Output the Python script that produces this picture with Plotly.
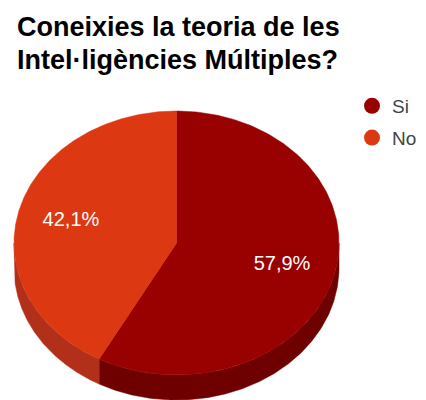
import numpy as np
import plotly.graph_objects as go

# ---- data ----
categories = ["Si", "No"]
values = [57.9, 42.1]
top_colors = ["#990000", "#dc3912"]
side_colors = ["#6e0000", "#b2301a"]
title_lines = ["Coneixies la teoria de les", "Intel·ligències Múltiples?"]

# ---- layout geometry (in screen pixels; page has an 8px body offset) ----
W, H = 426, 400
OFF = 8
cx, cy = 176.5, 243.0
rx, ry = 162.5, 132.0
depth = 25.0
label_r = 0.67

def px(x):
    return (x - OFF) / W

def py(y):
    return 1 - (y - OFF) / H

def pt(theta_deg, r=1.0, dz=0.0):
    t = np.radians(theta_deg)
    return cx + rx * r * np.sin(t), cy - ry * r * np.cos(t) + dz

total = float(sum(values))
fig = go.Figure()

starts, ends = [], []
acc = 0.0
for v in values:
    starts.append(acc / total * 360.0)
    acc += v
    ends.append(acc / total * 360.0)

# side walls (front half: 90..270 degrees)
for i, cat in enumerate(categories):
    a = max(starts[i], 90.0)
    b = min(ends[i], 270.0)
    if b <= a:
        continue
    th = np.linspace(a, b, 200)
    x1, y1 = pt(th)
    x2, y2 = pt(th[::-1], dz=depth)
    xs = np.concatenate([x1, x2, x1[:1]])
    ys = np.concatenate([y1, y2, y1[:1]])
    fig.add_trace(go.Scatter(x=xs, y=ys, fill="toself", fillcolor=side_colors[i],
                             line=dict(width=0.5, color=side_colors[i]), mode="lines",
                             hoverinfo="skip", showlegend=False))

# top surfaces
for i, cat in enumerate(categories):
    th = np.linspace(starts[i], ends[i], 300)
    x1, y1 = pt(th)
    xs = np.concatenate([[cx], x1, [cx]])
    ys = np.concatenate([[cy], y1, [cy]])
    fig.add_trace(go.Scatter(x=xs, y=ys, fill="toself", fillcolor=top_colors[i],
                             line=dict(width=0.5, color=top_colors[i]), mode="lines",
                             hoverinfo="skip", showlegend=False))

# percentage labels
lx, ly, lt = [], [], []
for i, v in enumerate(values):
    mid = (starts[i] + ends[i]) / 2.0
    x, y = pt(mid, r=label_r)
    lx.append(x); ly.append(y)
    lt.append(f"{v / total * 100:.1f}%".replace(".", ","))
fig.add_trace(go.Scatter(x=lx, y=ly, text=lt, mode="text", textposition="middle center",
                         textfont=dict(color="white", size=20, family="Liberation Sans, Arial"),
                         hoverinfo="skip", showlegend=False))

# legend entries
for i, cat in enumerate(categories):
    fig.add_trace(go.Scatter(x=[None], y=[None], mode="markers", name=cat, legendgroup=cat,
                             marker=dict(color=top_colors[i], size=17, symbol="circle")))

# title (two lines)
for k, line in enumerate(title_lines):
    fig.add_annotation(
        text="<b>" + line + "</b>",
        xref="paper", yref="paper", x=px(15), y=py(38 + 33 * k), xanchor="left", yanchor="bottom",
        align="left", showarrow=False, yshift=-6,
        font=dict(family="Liberation Sans, Arial", size=27, color="#000000"),
    )

fig.update_layout(
    width=W, height=H,
    margin=dict(l=0, r=0, t=0, b=0),
    paper_bgcolor="white", plot_bgcolor="white",
    xaxis=dict(range=[OFF, W + OFF], visible=False, fixedrange=True),
    yaxis=dict(range=[H + OFF, OFF], visible=False, fixedrange=True),
    legend=dict(x=px(352), xanchor="left", xref="paper", y=py(87), yanchor="top",
                yref="paper", font=dict(family="Liberation Sans, Arial", size=19, color="#444444"),
                bgcolor="rgba(0,0,0,0)", itemsizing="trace", tracegroupgap=4),
)

fig.write_html("out.html")
